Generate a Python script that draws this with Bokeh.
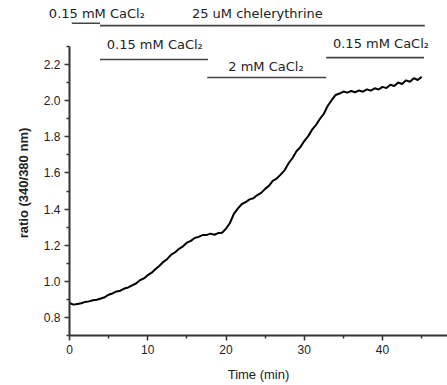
from bokeh.plotting import figure
from bokeh.models import Label, FixedTicker
from bokeh.layouts import column
from bokeh.embed import file_html
from bokeh.resources import INLINE

# --- data -----------------------------------------------------------------
time_min = [
    0, 0.5, 1, 1.5, 2, 2.5, 3, 3.5, 4, 4.5, 5, 5.5, 6, 6.5, 7, 7.5, 8, 8.5, 9, 9.5,
    10, 10.5, 11, 11.5, 12, 12.5, 13, 13.5, 14, 14.5, 15, 15.5, 16, 16.5, 17, 17.5,
    18, 18.5, 19, 19.5, 20, 20.5, 21, 21.5, 22, 22.5, 23, 23.5, 24, 24.5, 25, 25.5,
    26, 26.5, 27, 27.5, 28, 28.5, 29, 29.5, 30, 30.5, 31, 31.5, 32, 32.5, 33, 33.5,
    34, 34.5, 35, 35.5, 36, 36.5, 37, 37.5, 38, 38.5, 39, 39.5, 40, 40.5, 41, 41.5,
    42, 42.5, 43, 43.5, 44, 44.5, 45,
]
ratio = [
    0.880, 0.871, 0.875, 0.879, 0.886, 0.889, 0.895, 0.898, 0.905, 0.912, 0.926, 0.933,
    0.944, 0.948, 0.960, 0.966, 0.978, 0.988, 1.006, 1.016, 1.034, 1.048, 1.068, 1.086,
    1.108, 1.124, 1.148, 1.161, 1.180, 1.194, 1.214, 1.224, 1.240, 1.246, 1.256, 1.256,
    1.264, 1.258, 1.267, 1.269, 1.292, 1.323, 1.374, 1.403, 1.427, 1.438, 1.454, 1.460,
    1.478, 1.490, 1.512, 1.530, 1.557, 1.570, 1.592, 1.616, 1.654, 1.683, 1.720, 1.743,
    1.777, 1.804, 1.840, 1.866, 1.900, 1.928, 1.972, 2.003, 2.032, 2.040, 2.051, 2.045,
    2.054, 2.047, 2.057, 2.050, 2.063, 2.056, 2.069, 2.062, 2.077, 2.070, 2.089, 2.082,
    2.101, 2.093, 2.113, 2.105, 2.125, 2.115, 2.132,
]

x_ticks = [0, 10, 20, 30, 40]
x_minor = [5, 15, 25, 35, 45]
y_ticks = [0.8, 1.0, 1.2, 1.4, 1.6, 1.8, 2.0, 2.2]
y_minor = [0.7, 0.9, 1.1, 1.3, 1.5, 1.7, 1.9, 2.1, 2.3]

# treatment bars (top strip): start, end, level
top_bar_start = [0.3, 3.9]
top_bar_end = [3.9, 45.4]
top_bar_level = [2.429, 2.416]
top_label_text = ["0.15 mM CaCl₂", "25 uM chelerythrine"]
top_label_x = [3.5, 24.0]
top_label_y = [2.482, 2.482]

# treatment bars (inside plot)
bar_start = [3.9, 17.6, 32.8]
bar_end = [17.7, 32.8, 45.3]
bar_level = [2.228, 2.129, 2.239]
label_text = ["0.15 mM CaCl₂", "2 mM CaCl₂", "0.15 mM CaCl₂"]
label_x = [10.9, 25.1, 39.8]
label_y = [2.311, 2.190, 2.317]

FONT = "Liberation Sans"
ANN_FONT = "DejaVu Sans"
AX = "#333333"
PX_PER_UNIT = 378 / 48.3          # horizontal scale of the main frame
TOP_H = 30
Y_TOP_MAIN = 2.389
Y_SCALE = 305 / (Y_TOP_MAIN - 0.7)

# ---- top strip (labels that reach left of the plot frame) -----------------
top = figure(width=447, height=TOP_H,
             x_range=(-69 / PX_PER_UNIT, 48.3),
             y_range=(Y_TOP_MAIN, Y_TOP_MAIN + TOP_H / Y_SCALE),
             x_axis_type=None, y_axis_type=None,
             output_backend="svg", toolbar_location=None,
             min_border_left=0, min_border_right=0, min_border_top=0, min_border_bottom=0)
top.frame_align = False
top.outline_line_color = None
top.grid.visible = False
top.segment(x0=top_bar_start, x1=top_bar_end, y0=top_bar_level, y1=top_bar_level,
            line_color="#444444", line_width=1.6)
for t, x, y in zip(top_label_text, top_label_x, top_label_y):
    top.add_layout(Label(x=x, y=y, text=t, text_align="center", text_baseline="middle",
                         text_font=ANN_FONT, text_font_size="13px", text_color="#222222"))

# ---- main plot ------------------------------------------------------------
p = figure(width=447, height=385 - TOP_H, x_range=(0, 48.3), y_range=(0.7, Y_TOP_MAIN),
           output_backend="svg", toolbar_location=None,
           min_border_left=69, min_border_right=0, min_border_top=0, min_border_bottom=50)
p.frame_align = False
p.outline_line_color = None
p.grid.visible = False

p.line(time_min, ratio, line_color="black", line_width=2)

p.segment(x0=bar_start, x1=bar_end, y0=bar_level, y1=bar_level,
          line_color="#444444", line_width=1.6)
for t, x, y in zip(label_text, label_x, label_y):
    p.add_layout(Label(x=x, y=y, text=t, text_align="center", text_baseline="middle",
                       text_font=ANN_FONT, text_font_size="13px", text_color="#222222"))

xa = p.xaxis[0]
xa.ticker = FixedTicker(ticks=x_ticks, minor_ticks=x_minor)
xa.axis_label = "Time (min)"
ya = p.yaxis[0]
ya.ticker = FixedTicker(ticks=y_ticks, minor_ticks=y_minor)
ya.bounds = (0.7, 2.3)
ya.axis_label = "ratio (340/380 nm)"
ya.major_label_overrides = {v: f"{v:.1f}" for v in y_ticks}

for ax in (xa, ya):
    ax.axis_line_color = AX
    ax.axis_line_width = 2
    ax.major_tick_line_color = AX
    ax.minor_tick_line_color = AX
    ax.major_tick_line_width = 1.5
    ax.minor_tick_line_width = 1.5
    ax.major_tick_out = 5
    ax.major_tick_in = 0
    ax.minor_tick_out = 3
    ax.minor_tick_in = 0
    ax.major_label_text_font = FONT
    ax.major_label_text_font_size = "12px"
    ax.major_label_text_color = "#222222"
    ax.axis_label_text_font = FONT
    ax.axis_label_text_font_size = "13px"
    ax.axis_label_text_color = "#222222"
    ax.axis_label_text_font_style = "normal"
    ax.major_label_standoff = 4
ya.axis_label_text_font_style = "bold"
ya.axis_label_standoff = 10
xa.axis_label_standoff = 10

layout = column(top, p, spacing=0)
open("out.html", "w").write(file_html(layout, INLINE))
